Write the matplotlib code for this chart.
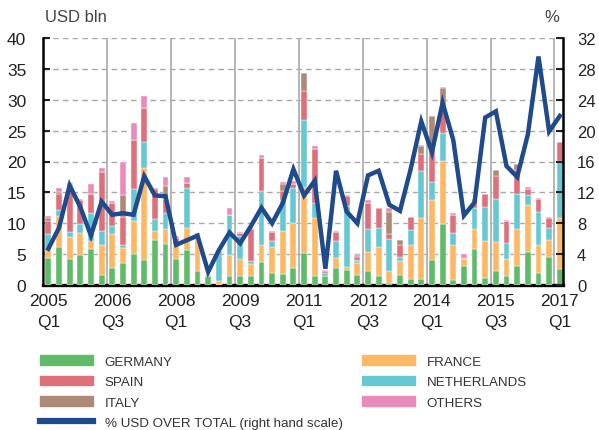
import matplotlib
matplotlib.use('Agg')
import matplotlib.pyplot as plt
from matplotlib.patches import Patch
from matplotlib.lines import Line2D
import numpy as np

plt.rcParams['font.family'] = ['Liberation Sans', 'DejaVu Sans']

# quarters 2005 Q1 .. 2017 Q1 (49 bars)
tick_labels = ['2005\nQ1', '2006\nQ3', '2008\nQ1', '2009\nQ3', '2011\nQ1',
               '2012\nQ3', '2014\nQ1', '2015\nQ3', '2017\nQ1']

germany = [4.4, 6.1, 4.2, 4.9, 5.9, 1.6, 2.8, 3.6, 5.0, 4.1,
           7.3, 6.6, 4.2, 5.7, 2.3, 1.4, 0.0, 1.5, 1.5, 1.4,
           3.8, 2.0, 1.8, 2.7, 5.2, 1.5, 1.5, 2.8, 2.5, 1.6,
           2.3, 1.5, 0.4, 1.6, 0.9, 1.0, 4.0, 9.9, 0.8, 3.0,
           5.9, 1.2, 2.2, 1.5, 3.0, 5.4, 2.0, 4.5, 2.6]
france = [1.2, 5.1, 3.5, 3.6, 1.2, 4.9, 5.5, 2.4, 5.3, 14.9,
          1.4, 2.5, 2.2, 3.5, 5.8, 0.0, 0.7, 3.3, 2.7, 2.0,
          2.7, 4.1, 7.0, 7.3, 10.6, 9.3, 0.0, 1.6, 0.4, 2.0,
          3.0, 4.7, 1.8, 2.3, 5.6, 9.8, 9.8, 10.2, 5.7, 1.2,
          3.1, 6.0, 4.7, 2.7, 6.0, 7.6, 4.4, 2.8, 8.3]
netherlands = [2.6, 0.9, 0.9, 1.4, 4.6, 2.2, 1.3, 0.5, 5.3, 4.2,
               2.0, 2.5, 0.0, 6.5, 0.0, 0.0, 4.8, 6.5, 3.8, 0.5,
               8.8, 1.0, 4.9, 5.7, 11.0, 2.5, 0.5, 2.8, 9.9, 0.3,
               3.8, 3.1, 5.2, 0.7, 2.4, 7.7, 2.9, 4.5, 1.9, 0.0,
               3.5, 5.5, 7.1, 2.6, 5.7, 1.5, 5.4, 1.9, 9.2]
spain = [2.2, 2.7, 7.5, 3.8, 3.1, 9.6, 3.6, 4.5, 7.9, 5.4,
         4.9, 2.4, 1.2, 0.8, 0.2, 0.0, 0.0, 0.0, 0.4, 5.1,
         5.2, 1.5, 1.5, 0.7, 4.6, 8.7, 0.2, 1.4, 1.6, 0.2,
         4.1, 3.2, 0.8, 1.9, 2.1, 2.7, 5.3, 3.4, 3.0, 0.2,
         1.5, 2.1, 3.7, 3.6, 3.9, 1.1, 2.2, 1.7, 3.0]
italy = [0.4, 0.2, 0.1, 0.2, 0.0, 0.0, 0.0, 3.5, 0.0, 0.0,
         0.1, 2.1, 0.0, 0.0, 0.0, 0.2, 0.0, 0.0, 0.0, 0.0,
         0.0, 0.0, 1.2, 0.0, 3.0, 0.0, 0.0, 0.0, 0.0, 0.4,
         0.0, 0.0, 3.6, 0.8, 0.0, 1.3, 5.4, 3.9, 0.0, 0.0,
         0.0, 0.0, 0.9, 0.0, 1.0, 0.0, 0.0, 0.0, 0.0]
others = [0.4, 0.7, 0.3, 0.1, 1.6, 0.7, 0.4, 5.4, 2.7, 2.0,
          0.0, 1.4, 0.4, 1.0, 0.2, 0.1, 0.0, 1.2, 0.2, 0.2,
          0.5, 0.1, 0.2, 0.4, 0.0, 0.5, 0.2, 0.1, 0.1, 0.3,
          0.5, 0.0, 0.7, 0.0, 0.0, 0.1, 0.0, 0.2, 0.2, 0.6,
          0.0, 0.0, 0.0, 0.2, 0.0, 0.2, 0.1, 0.1, 0.0]
usd_share = [4.7, 7.4, 12.9, 10.1, 6.4, 10.8, 9.1, 9.3, 9.1, 14.1,
             11.6, 11.5, 5.2, 5.8, 6.4, 1.7, 4.5, 6.8, 5.4, 7.6,
             10.0, 8.0, 10.6, 15.0, 11.6, 13.5, 2.1, 14.8, 9.5, 8.0,
             14.2, 14.8, 10.4, 9.6, 15.0, 21.2, 17.2, 23.6, 18.8, 9.0,
             10.7, 21.7, 22.5, 15.4, 14.0, 19.5, 29.6, 19.9, 21.9]

series = [('GERMANY', germany, '#5fbb68'),
          ('FRANCE', france, '#fdb864'),
          ('NETHERLANDS', netherlands, '#67c8d3'),
          ('SPAIN', spain, '#de707c'),
          ('ITALY', italy, '#ad8a77'),
          ('OTHERS', others, '#e98cbb')]
line_color = '#1f4a8c'

fig = plt.figure(figsize=(5.99, 4.31), dpi=100)
ax = fig.add_axes([43/599, 1-286/431, 520/599, 247/431])
x = np.arange(len(germany))

bottom = np.zeros(len(x))
for name, vals, col in series:
    ax.bar(x, vals, width=0.55, bottom=bottom, color=col, edgecolor='white',
           linewidth=0.3, zorder=3)
    bottom += np.array(vals)

ax.set_xlim(-0.5, 48.3)
ax.set_ylim(0, 40)
ax.set_yticks(np.arange(0, 41, 5))
ax.set_xticks(np.arange(0, 49, 6))
ax.set_xticklabels(tick_labels, linespacing=1.5)
for gx in np.arange(5.5, 48, 6):
    ax.axvline(gx, color='#b0b0b0', lw=1.3, zorder=1)
ax.yaxis.grid(True, color='#a8a8a8', lw=1.0, linestyle=(0, (4, 3)), zorder=0)
ax.set_axisbelow(True)

ax.tick_params(axis='y', direction='in', length=5, width=1.5, colors='#222222',
               labelsize=12.5, pad=12)
ax.tick_params(axis='x', length=0, labelsize=12.5, colors='#222222', pad=6)
for s in ['top', 'right']:
    ax.spines[s].set_visible(False)
ax.spines['left'].set_linewidth(1.8)
ax.spines['bottom'].set_linewidth(2.4)

ax2 = ax.twinx()
ax2.plot(x, usd_share, color=line_color, lw=3.2, solid_joinstyle='miter', zorder=5)
ax2.set_ylim(0, 32)
ax2.set_yticks(np.arange(0, 33, 4))
ax2.tick_params(axis='y', direction='in', length=5, width=1.5, colors='#222222',
                labelsize=12, pad=10)
for s in ['top', 'left', 'bottom']:
    ax2.spines[s].set_visible(False)
ax2.spines['right'].set_linewidth(1.8)

fig.text(45/599, 1-17/431, 'USD bln', fontsize=12, color='#444444', va='center', ha='left')
fig.text(552/599, 1-17/431, '%', fontsize=12, color='#444444', va='center', ha='center')

leg_font = {'family': ['Liberation Sans', 'DejaVu Sans'], 'size': 9.6}
cmap = {n: c for n, _, c in series}
h1 = [Patch(color=cmap['GERMANY']), Patch(color=cmap['SPAIN']), Patch(color=cmap['ITALY']),
      Line2D([], [], color=line_color, lw=4.5)]
l1 = ['GERMANY', 'SPAIN', 'ITALY', '% USD OVER TOTAL (right hand scale)']
h2 = [Patch(color=cmap['FRANCE']), Patch(color=cmap['NETHERLANDS']), Patch(color=cmap['OTHERS'])]
l2 = ['FRANCE', 'NETHERLANDS', 'OTHERS']
kw = dict(loc='upper left', frameon=False, prop=leg_font, handlelength=4.0,
          handleheight=0.75, handletextpad=0.85, labelspacing=0.6,
          borderpad=0, borderaxespad=0, labelcolor='#333333')
fig.legend(h1, l1, bbox_to_anchor=(40/599, 1-356/431), **kw)
fig.legend(h2, l2, bbox_to_anchor=(362/599, 1-356/431), **kw)

fig.savefig('out.png', dpi=100)
